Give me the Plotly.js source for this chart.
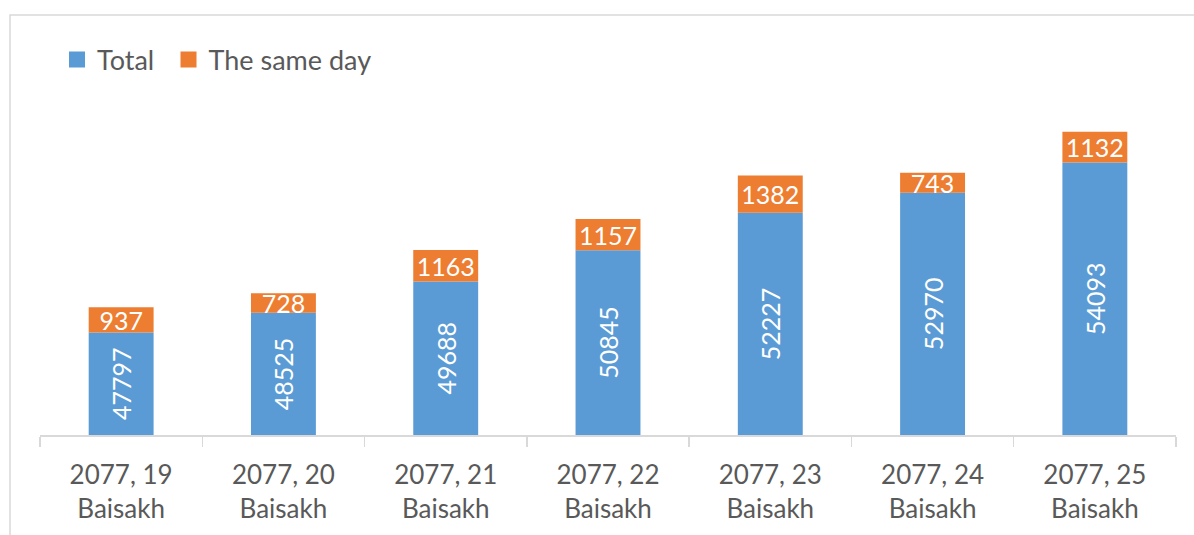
<!DOCTYPE html>
<html>
<head>
<meta charset="utf-8">
<script src="https://cdn.plot.ly/plotly-3.0.1.min.js"></script>
<style>
  html, body { margin: 0; padding: 0; background: #ffffff; }
  #chart { width: 1194px; height: 535px; }
</style>
</head>
<body>
<div id="chart"></div>
<script>
const categories = [
  "2077, 19<br>Baisakh",
  "2077, 20<br>Baisakh",
  "2077, 21<br>Baisakh",
  "2077, 22<br>Baisakh",
  "2077, 23<br>Baisakh",
  "2077, 24<br>Baisakh",
  "2077, 25<br>Baisakh"
];
const totalValues = [47797, 48525, 49688, 50845, 52227, 52970, 54093];
const sameDayValues = [937, 728, 1163, 1157, 1382, 743, 1132];
const seriesNames = ["Total", "The same day"];
const seriesColors = ["#5b9bd5", "#ed7d31"];
const axisMin = 44000;
const axisMax = 56960;

const FONT = "Lato, 'Open Sans', sans-serif";
const GRAY = "#595959";
const LINE = "#d9d9d9";

const totalTrace = {
  type: "bar",
  name: seriesNames[0],
  x: categories,
  base: axisMin,
  y: totalValues.map(v => v - axisMin),
  text: totalValues.map(String),
  texttemplate: "%{text}",
  textposition: "inside",
  insidetextanchor: "middle",
  textangle: -90,
  constraintext: "none",
  insidetextfont: { family: FONT, size: 25, color: "#ffffff" },
  marker: { color: seriesColors[0], line: { width: 0 } },
  showlegend: false,
  hoverinfo: "skip"
};

const sameDayTrace = {
  type: "bar",
  name: seriesNames[1],
  x: categories,
  base: totalValues,
  y: sameDayValues,
  text: sameDayValues.map(String),
  texttemplate: "%{text}",
  textposition: "inside",
  insidetextanchor: "middle",
  textangle: 0,
  constraintext: "none",
  insidetextfont: { family: FONT, size: 25, color: "#ffffff" },
  marker: { color: seriesColors[1], line: { width: 0 } },
  showlegend: false,
  hoverinfo: "skip"
};

// legend-only entries (larger square swatches, as in the reference)
const legendTraces = seriesNames.map((n, i) => {
  const t = {
    type: "scatter",
    mode: "markers",
    name: n,
    x: [null],
    y: [null],
    marker: { symbol: "square", size: 16, color: seriesColors[i] },
    showlegend: true,
    hoverinfo: "skip"
  };
  if (i === 0) t.legendwidth = 66.5;
  return t;
});

const L = 40, R = 18, T = 85, B = 100;
const W = 1194, H = 535;
const pw = W - L - R, ph = H - T - B;

const layout = {
  width: W,
  height: H,
  margin: { l: L, r: R, t: T, b: B, pad: 0 },
  paper_bgcolor: "#ffffff",
  plot_bgcolor: "#ffffff",
  barmode: "overlay",
  bargap: 0.6,
  font: { family: FONT, size: 26, color: GRAY },
  showlegend: true,
  legend: {
    orientation: "h",
    x: 17 / pw,
    xanchor: "left",
    y: (435 - 60) / ph,
    yanchor: "middle",
    font: { family: FONT, size: 27, color: GRAY },
    bgcolor: "rgba(0,0,0,0)",
    traceorder: "normal"
  },
  xaxis: {
    type: "category",
    showline: true,
    linecolor: LINE,
    linewidth: 1.5,
    ticks: "outside",
    tickson: "boundaries",
    ticklen: 10,
    tickcolor: LINE,
    tickwidth: 1.5,
    ticklabelstandoff: 16,
    showgrid: false,
    zeroline: false,
    tickfont: { family: FONT, size: 26, color: GRAY },
    fixedrange: true
  },
  yaxis: {
    visible: false,
    range: [axisMin, axisMax],
    showgrid: false,
    zeroline: false,
    fixedrange: true
  },
  shapes: [{
    type: "rect",
    xref: "paper", yref: "paper",
    x0: (10 - L) / pw, x1: (W + 20 - L) / pw,
    y0: (H - B - (H + 20)) / ph, y1: (H - B - 15) / ph,
    line: { color: LINE, width: 1.5 },
    fillcolor: "rgba(0,0,0,0)",
    layer: "below"
  }]
};

Plotly.newPlot("chart", [totalTrace, sameDayTrace].concat(legendTraces), layout, { displayModeBar: false, staticPlot: true });
</script>
</body>
</html>
